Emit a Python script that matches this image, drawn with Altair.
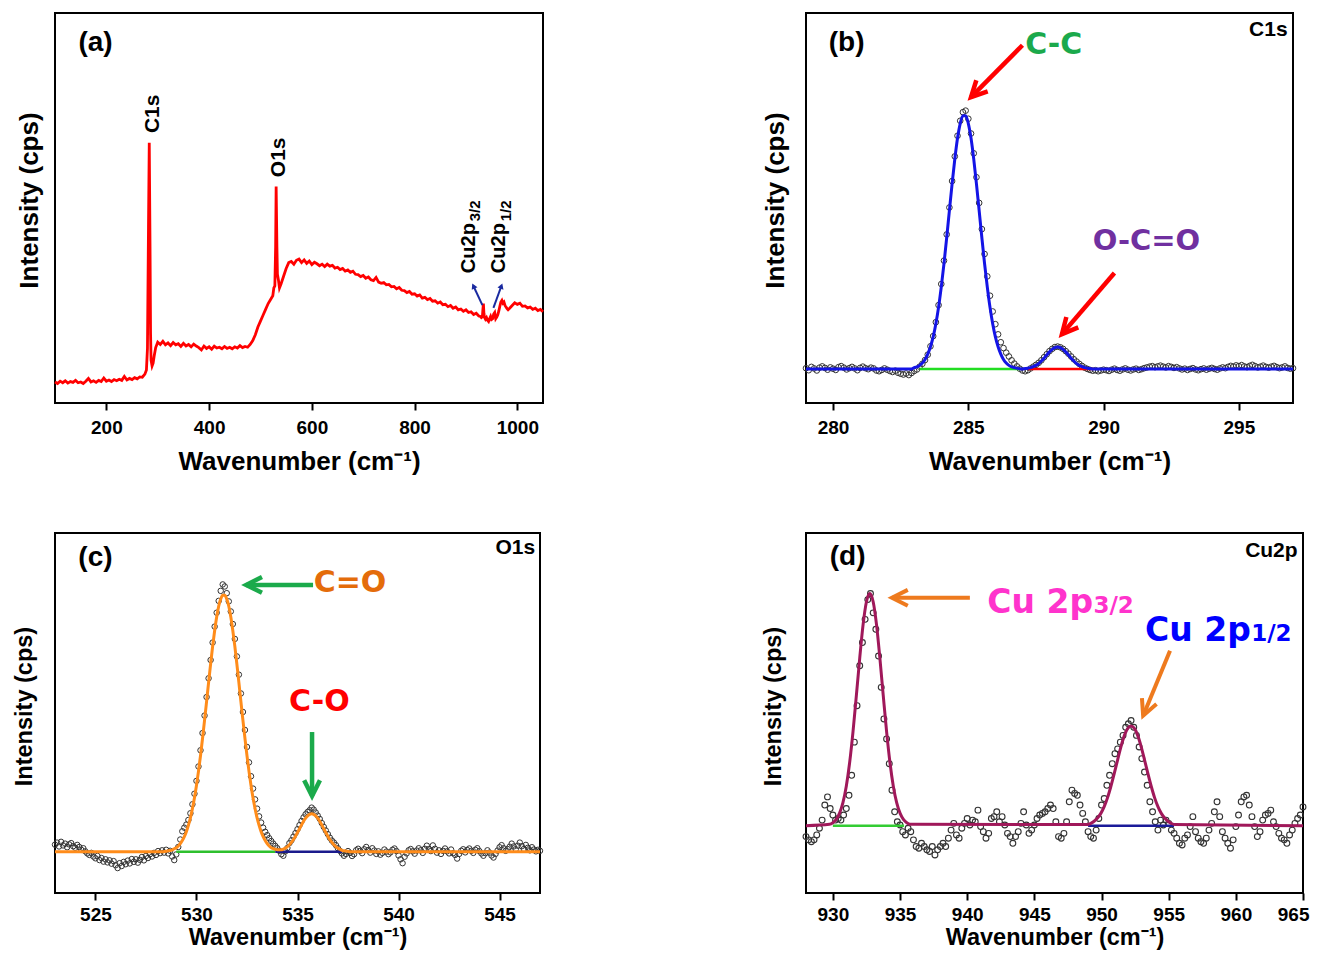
import altair as alt
import numpy as np
import pandas as pd

FONT = "Liberation Sans"
HEAVY = "DejaVu Sans"
XT = "Wavenumber (cm⁻¹)"
YT = "Intensity (cps)"

# ---------------- (a) survey spectrum (read in sections) ----------------
a1_start, a1_step = 100, 5
a1_y = [5.4, 5.0, 5.6, 5.2, 5.7, 5.1, 5.5, 5.3, 5.8, 5.2, 5.4, 5.0, 5.6, 6.3, 5.4, 5.7, 5.3, 5.8, 5.5, 6.4,
        5.6, 5.9, 5.5, 6.0, 5.7, 6.1, 5.8, 6.8, 5.9, 6.3, 6.0, 6.5, 6.2, 6.7, 6.6, 7.4]
a2_x = [278, 280, 282, 283.5, 285, 286, 287, 289, 291, 293, 296]
a2_y = [8.5, 14, 45, 66.7, 40, 18, 11, 9.5, 10.2, 12, 14.2]
a3_start, a3_step = 300, 5
a3_y = [15.6, 15.0, 15.8, 14.9, 15.4, 14.7, 15.5, 14.9, 15.2, 14.5, 15.3, 14.6, 15.0, 14.4, 15.1, 14.6, 14.2, 13.6,
        14.6, 14.0, 14.4, 13.8, 14.6, 14.1, 14.3, 13.9, 14.5, 14.0, 14.3, 13.9, 14.4, 14.1, 14.7, 14.2, 14.5, 14.3]
a4_x = [480, 485, 490, 495, 500, 505, 510, 515, 520, 524, 526, 528, 529.5, 530.5, 532, 533, 535, 537, 540, 545,
        550, 555]
a4_y = [15.0, 16.0, 17.5, 19.5, 21, 22.5, 24, 25.5, 26.6, 27.5, 29.5, 30, 40, 55.5, 40, 33, 31.5, 29.5, 30.5, 32.5,
        34.5, 36]
a5_start, a5_step = 560, 5
a5_y = [36.3, 35.6, 36.6, 36.9, 36.0, 36.7, 35.8, 36.4, 35.5, 36.1,
        35.7, 35.2, 35.6, 35.0, 35.6, 35.1, 35.3, 34.6, 34.8, 34.2,
        34.5, 33.8, 34.1, 33.5, 33.8, 33.0, 32.9, 32.4, 32.7, 32.0,
        32.3, 31.6, 31.4, 32.2, 31.0, 30.7, 30.9, 30.3, 30.4, 29.8,
        29.9, 29.3, 29.6, 28.9, 28.8, 28.3, 28.6, 27.9, 28.0, 27.4,
        27.7, 26.9, 27.1, 26.5, 26.8, 26.1, 26.2, 25.6, 25.9, 25.2,
        25.3, 24.7, 25.0, 24.3, 24.6, 23.9, 24.1, 23.5, 23.9, 23.2,
        23.4, 22.7, 23.0, 22.3]
a6_x = [928, 930, 932, 933, 934, 935, 936, 938, 940, 942, 944, 946, 948, 950, 952, 954, 956, 958, 960, 962,
        964, 966, 968, 970, 972, 974, 976, 978, 980, 982, 985, 990, 995, 1000, 1005, 1010, 1015, 1020, 1025, 1030,
        1035, 1040, 1045, 1050]
a6_y = [22.2, 21.9, 22.1, 24.0, 25.5, 23.0, 22.0, 21.5, 21.9, 21.2, 20.9, 21.6, 22.2, 21.4, 21.6, 22.8, 23.2, 21.6,
        22.0, 22.6, 23.6, 24.8, 25.9, 26.3, 25.6, 25.9, 25.0, 24.6, 24.2, 23.9, 24.3, 25.0, 25.7, 25.3, 25.6, 24.8,
        24.9, 24.4, 24.6, 24.0, 24.3, 23.7, 24.0, 23.4]

# ---------------- (b) C1s ----------------
b_start, b_step = 279.0, 0.1
b_obs = [0.3, -0.5, 0.8, 0.2, -0.6, 0.5, 1.0, 0.4, -0.3, 0.6, 0.1, -0.4, 0.7, 1.1, 0.5, -0.2, 0.3, 0.8, 0.2, -0.5,
         0.4, 0.9, 0.3, -0.1, 0.5, 0.2, -0.6, -0.9, -0.4, 0.2, -0.3, -0.8, -1.2, -0.7, -1.5, -1.9, -2.2, -1.8, -2.4, -1.6,
         -0.8, -0.2, 0.9, 2.0, 3.5, 5.6, 8.9, 12.9, 18.4, 25.1, 33.4, 42.6, 52.9, 63.5, 73.9, 83.6, 91.7, 97.6, 101.0, 101.6,
         98.4, 92.6, 84.8, 75.4, 65.3, 55.0, 45.2, 36.4, 28.8, 22.6, 17.6, 13.6, 10.5, 8.2, 6.4, 4.9, 3.4, 2.1,
         1.0, 0.1, -0.6, -0.9, -0.5, 0.2, 0.9, 1.6, 2.4, 3.4, 4.6, 5.8, 7.0, 7.9, 8.6, 8.8, 8.5, 7.9, 7.0, 6.0,
         4.9, 3.8, 2.9, 2.0, 1.2, 0.5, 0.0, -0.4, -0.7, -0.5, -0.9, -0.6, -0.3,
         -0.5, -0.8, -0.3, 0.1, -0.4, -0.7, -0.2, 0.2, -0.3, -0.6, -0.2, 0.1, -0.4, -0.1, 0.3, 0.6, 0.9, 1.1, 0.7, 1.0,
         1.3, 0.9, 0.6, 1.1, 0.8, 0.4, 0.7, 0.2, -0.2, 0.1, -0.4, 0.0, 0.3, -0.2, -0.5, -0.1, 0.2, -0.3, 0.1, 0.4,
         0.0, -0.3, 0.2, 0.6, 0.3, 0.8, 1.2, 0.9, 1.4, 1.1, 1.5, 1.0, 0.7, 1.2, 1.6, 1.1, 0.6, 0.9, 1.3, 0.8,
         0.5, 0.9, 1.2, 0.7, 0.3, 0.6, 1.0, 0.4, 0.1, 0.3]
b_fit = ([0.0] * 40 +
         [0.5, 0.8, 1.4, 2.3, 3.7, 5.8, 8.7, 12.6, 17.8, 24.3, 32.3, 41.4, 51.6, 62.3, 72.8, 82.5, 90.7, 96.5, 99.6, 99.6,
          96.5, 90.7, 82.5, 72.8, 62.3, 51.6, 41.4, 32.3, 24.3, 17.8, 12.6, 8.7, 5.8, 3.7, 2.3, 1.4, 0.8, 0.5] +
         [0.3, 0.1, 0.0, 0.15, 0.3, 0.5, 0.9, 1.4, 2.1, 3.1, 4.2, 5.5, 6.7, 7.7, 8.4, 8.6, 8.4, 7.7, 6.7, 5.5,
          4.2, 3.1, 2.1, 1.4, 0.9, 0.5, 0.3, 0.15, 0.0, 0.0, 0.0, 0.0, 0.0] +
         [0.0] * 70)

# ---------------- (c) O1s ----------------
c_start, c_step = 523.0, 0.1
c_obs = [2.8, 3.6, 2.1, 3.9, 2.5, 3.2, 1.8, 2.9, 3.4, 2.2, 1.6, 2.7, 1.9, 0.8, 1.4, 0.2, -0.6, -1.2, -0.4, -1.8,
         -2.5, -1.6, -3.2, -2.4, -3.8, -2.9, -4.1, -3.3, -4.6, -3.6, -5.2, -6.3, -4.4, -5.5, -3.9, -4.8, -3.4, -4.5, -2.8, -3.9,
         -2.9, -4.2, -3.1, -2.0, -3.3, -1.6, -2.4, -0.9, -1.8, -0.4, -1.2, 0.3, -0.5, 0.6,
         -0.3, 0.8, -0.6, 0.4, -1.8, -3.2, -1.0, 1.9, 4.8, 8.0, 9.4, 10.6, 12.4, 15.0, 18.5, 22.6, 27.6, 33.2, 39.5, 46.2,
         53.0, 60.2, 67.5, 74.6, 81.4, 87.6, 93.0, 97.6, 101.5, 104.0,
         103.2, 100.6, 97.4, 93.5, 88.6, 82.8, 76.0, 68.9, 61.6, 54.4, 47.4, 40.8, 34.8, 29.4, 24.6, 20.4, 16.8, 13.8, 11.4, 9.4,
         7.8, 6.5, 5.3, 4.2, 3.2, 2.3, 1.4, 0.4, -0.9, -1.5,
         0.2, 1.5, 3.4, 4.5, 5.9, 7.3, 8.8, 10.4, 12.0, 13.4, 14.6, 15.5, 16.2, 17.2, 16.4, 15.3, 14.1, 12.8, 11.2, 9.7,
         8.3, 6.9, 5.5, 4.4, 3.6, 2.6, 1.4, 0.4, -0.6, -1.5, -0.8, 0.3,
         -0.4, -1.6, -0.9, 0.6, 1.2, 0.4, -0.5, 1.0, 1.9, 0.7, -0.3, 1.4, 0.5, -0.8, 0.2, -1.1, -0.4, 0.9, 0.1, -0.9,
         -0.2, 0.8, 1.3, 0.3, -1.4, -2.9, -4.4, -1.9, -0.6, 0.6, 1.1, 0.2, -0.7, 0.5, 1.4, 0.6, -0.4, 1.2, 2.4, 1.1,
         0.3, 2.5, 1.2, -0.3, 0.6, -0.8, 0.4, 1.3, 0.2, -0.6, 0.9, -0.5, -1.2, -2.6, -0.8, 0.4, 1.0, -0.2, 0.7, 1.3,
         0.4, -0.4, 0.8, 1.4, 0.3, -0.6, -1.5, -0.5, 0.6, -0.3, -1.4, -2.2, -0.8, 0.5, 1.8, 2.6, 1.4, 0.4, 1.1, 2.0,
         3.2, 2.1, 1.0, 2.4, 3.6, 2.2, 1.1, 2.7, 1.6, 0.6, 1.8, 0.9, 0.2, 0.8, 0.4]
c_fit = ([0.0] * 54 +
         [0.1, 0.2, 0.4, 0.5, 0.8, 1.2, 1.6, 2.3, 3.2, 4.4, 5.9, 7.8, 10.3, 13.2, 16.8, 20.9, 25.8, 31.3, 37.4, 44.1,
          51.1, 58.4, 65.8, 73.0, 79.9, 86.0, 91.3, 95.5, 98.3, 99.8] +
         [99.8, 98.3, 95.5, 91.3, 86.0, 79.9, 73.0, 65.8, 58.4, 51.1, 44.1, 37.4, 31.3, 25.8, 20.9, 16.8, 13.2, 10.3, 7.8, 5.9,
          4.4, 3.2, 2.3, 1.6, 1.3, 1.0, 0.8, 0.8, 0.8, 1.1] +
         [1.4, 2.0, 2.8, 3.7, 4.8, 6.1, 7.5, 9.0, 10.5, 11.9, 13.1, 14.0, 14.6, 14.8, 14.6, 14.0, 13.1, 11.9, 10.5, 9.0,
          7.5, 6.1, 4.8, 3.7, 2.8, 2.0, 1.4, 1.0, 0.6, 0.4, 0.3, 0.2] +
         [0.0] * 95)

# ---------------- (d) Cu2p ----------------
d_start, d_step = 928.0, 0.2
d_obs = [-4.7, -6.1, -6.9, -6.1, -4.0, -1.1, 2.4, 8.9, 12.4, 7.4,
         4.6, 2.4, 3.1, 2.4, 4.6, 7.4, 13.1, 21.7, 36.0, 51.7,
         68.9, 78.9, 88.9, 97.4, 100.0, 91.7, 84.6, 73.1, 59.6, 46.0,
         37.4, 26.7, 15.3, 6.0, 1.7, 0.3, -2.6, -4.0, -1.1, -2.6,
         -6.1, -9.0, -9.7, -7.6, -9.0, -10.4, -11.1, -9.0, -12.6, -10.4,
         -9.0, -7.6, -9.0, -5.4, -1.9, 1.0, -4.0, -5.4, -1.1, 1.0,
         3.1, 0.3, 2.4, 1.7, 6.7, -0.4, -2.6, -5.4, -3.3, 3.1,
         3.9, 6.0, 1.7, 3.9, 0.3, -3.3, -4.7, -7.6, -4.7, -2.6,
         1.0, 6.0, 0.3, -3.3, -1.9, 0.3, 3.1, 4.6, 5.3, 6.0,
         7.4, 8.9, 7.4, 1.7, -4.7, -5.4, -3.3, 1.7, 10.3, 15.3,
         13.9, 13.1, 8.9, 5.3, 1.7, -2.6, -4.7, -5.4, -1.9, 3.1,
         8.9, 11.7, 17.4, 21.7, 26.7, 31.0, 33.1, 36.0, 38.9, 42.4,
         43.9, 45.3, 42.4, 38.9, 33.9, 28.9, 23.1, 17.4, 10.3, 6.0,
         1.7, -1.9, 2.4, 0.3, 2.4, 1.0, -1.9, -3.3, -5.4, -7.6,
         -8.3, -5.4, -4.0, -0.4, 3.9, -2.6, -5.4, -6.9, -7.6, -5.4,
         -1.9, 1.0, 6.0, 10.3, 3.9, -2.6, -5.4, -7.6, -9.7, -6.1,
         -0.4, 4.6, 10.3, 12.4, 13.1, 8.9, 3.9, -0.4, -4.7, -2.6,
         2.4, 4.6, 5.3, 6.7, 1.7, -0.4, -3.3, -5.4, -6.1, -7.6,
         -4.0, -1.9, 1.0, 3.1, 4.6, 8.1]
d_p1_start = 929.75
d_p1 = [0.6, 1.3, 2.7, 5.4, 9.9, 17.0, 27.2, 40.5, 56.1, 72.2, 86.6, 96.5, 100, 96.5, 86.6, 72.2, 56.1, 40.5,
        27.2, 17.0, 9.9, 5.4, 2.7, 1.3, 0.6]
d_p2_start = 948.95
d_p2 = [0.5, 1.0, 1.9, 3.3, 5.3, 8.2, 12.1, 17.0, 22.5, 28.4, 34.1, 38.8, 41.9, 43, 41.9, 38.8, 34.1, 28.4,
        22.5, 17.0, 12.1, 8.2, 5.3, 3.3, 1.9, 1.0, 0.5]
d_fit_step = 0.25


def grid(start, step, vals):
    return np.round(start + step * np.arange(len(vals)), 3)


def series(start, step, vals):
    return pd.DataFrame({"x": grid(start, step, vals), "y": vals})


def pairs(xs, ys):
    n = min(len(xs), len(ys))
    return pd.DataFrame({"x": list(xs)[:n], "y": list(ys)[:n]})


CHEV = "M-0.5,1L0,0L0.5,1"


def panel_encoders(xdom, ydom, ticks, ypad, ytitle_y, yfs, xpad, xfs, lpad, flush=False):
    xs = alt.Scale(domain=xdom, nice=False, zero=False)
    ys = alt.Scale(domain=ydom, nice=False, zero=False)
    xkw = dict(values=ticks, format="d", grid=False, domain=False, ticks=True, tickSize=7, tickWidth=2,
               tickColor="black", labelFont=FONT, labelFontSize=19, labelFontWeight="bold",
               labelColor="black", labelPadding=lpad,
               titleFont=FONT, titleFontSize=xfs, titleFontWeight="bold", titleColor="black",
               titlePadding=xpad)
    if flush:
        xkw.update(labelFlush=1, labelFlushOffset=6)
    else:
        xkw.update(labelFlush=False)
    xa = alt.Axis(**xkw)
    ya = alt.Axis(labels=False, ticks=False, domain=False, grid=False,
                  titleFont=FONT, titleFontSize=yfs, titleFontWeight="bold", titleColor="black",
                  titlePadding=ypad, titleY=ytitle_y)

    def X(f):
        return alt.X(f"{f}:Q", scale=xs, axis=xa, title=XT)

    def Y(f):
        return alt.Y(f"{f}:Q", scale=ys, axis=ya, title=YT)

    return X, Y


def texts(X, Y, xs, ys, labels, font=FONT, size=20, color="black", align="center",
          baseline="middle", angle=0):
    df = pd.DataFrame({"x": xs, "y": ys, "t": labels})
    return alt.Chart(df).mark_text(font=font, fontSize=size, fontWeight="bold", color=color,
                                   align=align, baseline=baseline, angle=angle).encode(
        x=X("x"), y=Y("y"), text="t:N")


def arrows(X, Y, x0, y0, x1, y1, ang, color, width=4.5, head=1000):
    df = pd.DataFrame({"x0": x0, "y0": y0, "x1": x1, "y1": y1, "ang": ang})
    src = alt.Chart(df)
    line = src.mark_rule(color=color, strokeWidth=width).encode(
        x=X("x0"), y=Y("y0"), x2="x1", y2="y1")
    tip = src.mark_point(shape=CHEV, filled=False, stroke=color, strokeWidth=width, size=head,
                         opacity=1, strokeJoin="miter").encode(
        x=X("x1"), y=Y("y1"), angle=alt.Angle("ang:Q", scale=None))
    return [line, tip]


def circles(X, Y, df, size=30, sw=1.0):
    return alt.Chart(df).mark_point(shape="circle", filled=False, stroke="#333333", strokeWidth=sw,
                                    size=size, opacity=1).encode(x=X("x"), y=Y("y"))


def segs(X, Y, x0, x1, colors, width=2.5):
    layers = []
    for a, b, c in zip(x0, x1, colors):
        df = pd.DataFrame({"x0": [a], "x1": [b], "y": [0.0]})
        layers.append(alt.Chart(df).mark_rule(color=c, strokeWidth=width).encode(
            x=X("x0"), x2="x1", y=Y("y")))
    return layers


def fitline(X, Y, df, color, width=3):
    return alt.Chart(df).mark_line(color=color, strokeWidth=width, interpolate="monotone").encode(
        x=X("x"), y=Y("y"), order="x:Q")


# ---------------- panel (a) ----------------
Xa, Ya = panel_encoders([100, 1050], [0, 100], [200, 400, 600, 800, 1000], 13, 187, 26, 11, 26, 8)
df_a = pd.concat([series(a1_start, a1_step, a1_y), pairs(a2_x, a2_y), series(a3_start, a3_step, a3_y),
                  pairs(a4_x, a4_y), series(a5_start, a5_step, a5_y), pairs(a6_x, a6_y)], ignore_index=True)
pa_layers = [
    alt.Chart(df_a).mark_line(color="#FF0000", strokeWidth=2.8).encode(x=Xa("x"), y=Ya("y"), order="x:Q"),
    texts(Xa, Ya, [179], [92.3], ["(a)"], size=28),
    texts(Xa, Ya, [290, 537], [69.2, 57.9], ["C1s", "O1s"], size=21, align="left", angle=270),
    texts(Xa, Ya, [905, 965], [33.3, 33.3], ["Cu2p", "Cu2p"], size=20, align="left", angle=270),
    texts(Xa, Ya, [917, 977], [46.6, 46.6], ["3/2", "1/2"], size=15, align="left", angle=270),
]
df_ar = pd.DataFrame({"x0": [932, 953.5], "y0": [25.1, 24.4], "x1": [914.6, 969], "y1": [30.0, 30.0],
                      "ang": [335, 20]})
pa_layers.append(alt.Chart(df_ar).mark_rule(color="#1A2AA0", strokeWidth=2).encode(
    x=Xa("x0"), y=Ya("y0"), x2="x1", y2="y1"))
pa_layers.append(alt.Chart(df_ar).mark_point(shape="triangle-up", filled=True, color="#1A2AA0", size=40,
                                             opacity=1).encode(
    x=Xa("x1"), y=Ya("y1"), angle=alt.Angle("ang:Q", scale=None)))
panel_a = alt.layer(*pa_layers).properties(width=488, height=390)

# ---------------- panel (b) ----------------
Xb, Yb = panel_encoders([279, 297], [-13.4, 140.0], [280, 285, 290, 295], 18, 187, 26, 11, 26, 8)
pb_layers = [circles(Xb, Yb, series(b_start, b_step, b_obs), size=32)]
pb_layers += segs(Xb, Yb, [283.2, 287.2], [286.9, 289.6], ["#22DD22", "#FF0000"])
pb_layers.append(fitline(Xb, Yb, series(b_start, b_step, b_fit), "#1414E6"))
pb_layers += [
    texts(Xb, Yb, [280.5], [128.1], ["(b)"], size=28),
    texts(Xb, Yb, [296.8], [133.2], ["C1s"], size=21, align="right"),
    texts(Xb, Yb, [287.1], [127.3], ["C-C"], font=HEAVY, size=30, color="#1BA94C", align="left"),
    texts(Xb, Yb, [289.6], [50.3], ["O-C=O"], font=HEAVY, size=29, color="#7030A0", align="left"),
]
pb_layers += arrows(Xb, Yb, [287.0, 290.4], [127.3, 37.7], [285.1, 288.46], [106.9, 13.7], [224, 221],
                    "#FF0000")
panel_b = alt.layer(*pb_layers).properties(width=487, height=390)

# ---------------- panel (c) ----------------
Xc, Yc = panel_encoders([523, 547], [-16.0, 124.0], [525, 530, 535, 540, 545], 19, 173, 23.5, 1, 23.5, 5)
pc_layers = [circles(Xc, Yc, series(c_start, c_step, c_obs))]
pc_layers += segs(Xc, Yc, [529.0, 533.9], [533.9, 537.2], ["#2EC02E", "#1A1A8C"])
pc_layers.append(fitline(Xc, Yc, series(c_start, c_step, c_fit), "#FF8C1A"))
pc_layers += [
    texts(Xc, Yc, [525.0], [114.3], ["(c)"], size=28),
    texts(Xc, Yc, [546.76], [118.2], ["O1s"], size=21, align="right"),
    texts(Xc, Yc, [535.8], [104.6], ["C=O"], font=HEAVY, size=30, color="#E46C0A", align="left"),
    texts(Xc, Yc, [534.58], [58.3], ["C-O"], font=HEAVY, size=30, color="#FF0000", align="left"),
]
pc_layers += arrows(Xc, Yc, [535.77, 535.72], [103.8, 46.6], [532.46, 535.72], [103.8, 21.7], [270, 180],
                    "#1BAA4B")
panel_c = alt.layer(*pc_layers).properties(width=485, height=360)

# ---------------- panel (d) ----------------
Xd, Yd = panel_encoders([928, 965], [-29.0, 126.1], [930, 935, 940, 945, 950, 955, 960, 965], 21, 173, 23.5,
                        1, 23.5, 5, flush=True)
fit_d = pd.concat([
    pd.DataFrame({"x": [928.0], "y": [0.0]}),
    series(d_p1_start, d_fit_step, d_p1),
    series(d_p2_start, d_fit_step, d_p2),
    pd.DataFrame({"x": [965.0], "y": [0.0]}),
], ignore_index=True)
pd_layers = [circles(Xd, Yd, series(d_start, d_step, d_obs), size=34, sw=1.1)]
pd_layers += segs(Xd, Yd, [930.0, 949.0], [935.3, 955.4], ["#33CC33", "#1A1A99"])
pd_layers.append(fitline(Xd, Yd, fit_d, "#A0185A"))
pd_layers += [
    texts(Xd, Yd, [931.1], [115.9], ["(d)"], size=28),
    texts(Xd, Yd, [964.6], [118.5], ["Cu2p"], size=21, align="right"),
    texts(Xd, Yd, [941.5], [91.8], ["Cu 2p"], font=HEAVY, size=33, color="#FF33CC", align="left",
          baseline="alphabetic"),
    texts(Xd, Yd, [949.4], [91.8], ["3/2"], font=HEAVY, size=23, color="#FF33CC", align="left",
          baseline="alphabetic"),
    texts(Xd, Yd, [953.24], [79.7], ["Cu 2p"], font=HEAVY, size=33, color="#0000FF", align="left",
          baseline="alphabetic"),
    texts(Xd, Yd, [961.14], [79.7], ["1/2"], font=HEAVY, size=23, color="#0000FF", align="left",
          baseline="alphabetic"),
]
pd_layers += arrows(Xd, Yd, [940.2, 955.1], [98.2, 75.4], [934.4, 953.1], [98.2, 47.4], [270, 202.6],
                    "#EE7A1E", width=4)
panel_d = alt.layer(*pd_layers).properties(width=497, height=360)

chart = alt.concat(panel_a, panel_b, panel_c, panel_d, columns=2,
                   spacing={"row": 130, "column": 263}, bounds="flush").properties(
    padding={"left": 3, "top": 4, "right": 0, "bottom": 0}
).configure_view(stroke="black", strokeWidth=2)

chart.save("out.html", embed_options={"renderer": "svg", "actions": False})
